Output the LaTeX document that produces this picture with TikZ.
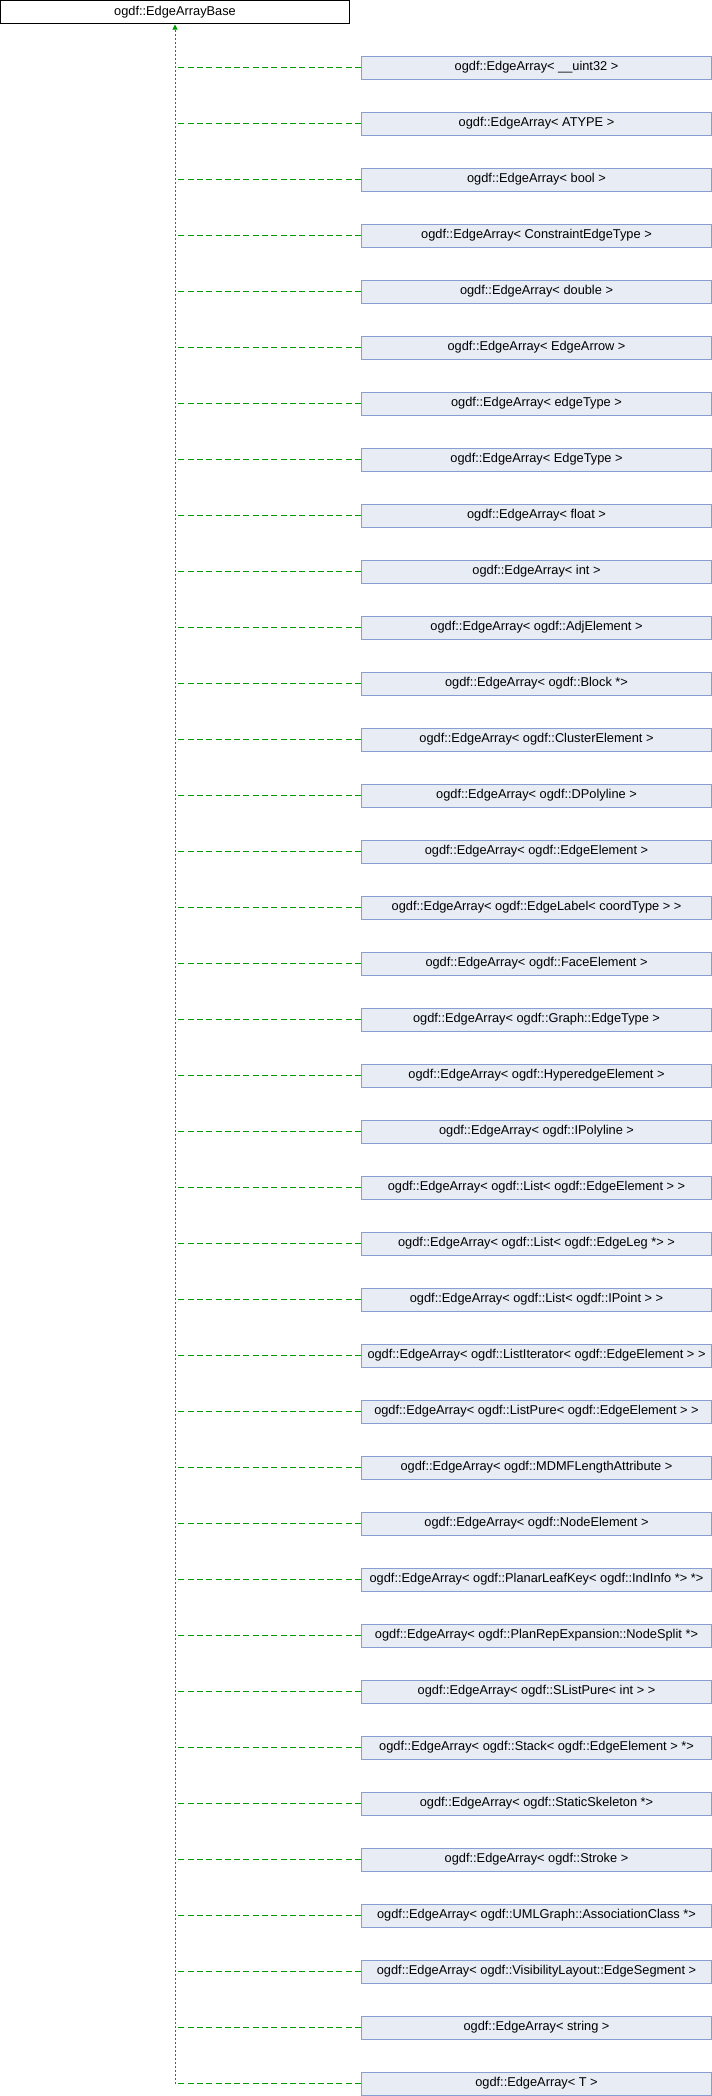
\documentclass[tikz,border=0pt]{standalone}
\usepackage{fontspec}
\setmainfont{Liberation Sans}
\usetikzlibrary{arrows.meta}
\definecolor{boxfill}{HTML}{E8ECF5}
\definecolor{boxline}{HTML}{8A9DD0}
\definecolor{edgegreen}{HTML}{009900}
\tikzset{
  basebox/.style={draw=black, fill=white, line width=1pt, minimum width=349pt, minimum height=22.5pt, inner sep=0pt, font=\fontsize{12.8}{15}\selectfont},
  childbox/.style={draw=boxline, fill=boxfill, line width=1pt, minimum width=350pt, minimum height=23pt, inner sep=0pt, font=\fontsize{12.8}{15}\selectfont},
  hedge/.style={draw=edgegreen, line width=1pt, dash pattern=on 6pt off 3.3pt},
  trunk/.style={draw=edgegreen, line width=1pt, dash pattern=on 2pt off 2pt, -{Triangle[width=5pt,length=5pt]}, shorten >=1pt}
}
\begin{document}
\begin{tikzpicture}[x=1pt,y=-1pt]
\useasboundingbox (0,0) rectangle (712,2096);
\node[basebox] (base) at (175,11.75) {ogdf::EdgeArrayBase};
\foreach \i/\lab in {
 1/{ogdf::EdgeArray< \_\_uint32 >},
 2/{ogdf::EdgeArray< ATYPE >},
 3/{ogdf::EdgeArray< bool >},
 4/{ogdf::EdgeArray< ConstraintEdgeType >},
 5/{ogdf::EdgeArray< double >},
 6/{ogdf::EdgeArray< EdgeArrow >},
 7/{ogdf::EdgeArray< edgeType >},
 8/{ogdf::EdgeArray< EdgeType >},
 9/{ogdf::EdgeArray< float >},
 10/{ogdf::EdgeArray< int >},
 11/{ogdf::EdgeArray< ogdf::AdjElement >},
 12/{ogdf::EdgeArray< ogdf::Block *>},
 13/{ogdf::EdgeArray< ogdf::ClusterElement >},
 14/{ogdf::EdgeArray< ogdf::DPolyline >},
 15/{ogdf::EdgeArray< ogdf::EdgeElement >},
 16/{ogdf::EdgeArray< ogdf::EdgeLabel< coordType > >},
 17/{ogdf::EdgeArray< ogdf::FaceElement >},
 18/{ogdf::EdgeArray< ogdf::Graph::EdgeType >},
 19/{ogdf::EdgeArray< ogdf::HyperedgeElement >},
 20/{ogdf::EdgeArray< ogdf::IPolyline >},
 21/{ogdf::EdgeArray< ogdf::List< ogdf::EdgeElement > >},
 22/{ogdf::EdgeArray< ogdf::List< ogdf::EdgeLeg *> >},
 23/{ogdf::EdgeArray< ogdf::List< ogdf::IPoint > >},
 24/{ogdf::EdgeArray< ogdf::ListIterator< ogdf::EdgeElement > >},
 25/{ogdf::EdgeArray< ogdf::ListPure< ogdf::EdgeElement > >},
 26/{ogdf::EdgeArray< ogdf::MDMFLengthAttribute >},
 27/{ogdf::EdgeArray< ogdf::NodeElement >},
 28/{ogdf::EdgeArray< ogdf::PlanarLeafKey< ogdf::IndInfo *> *>},
 29/{ogdf::EdgeArray< ogdf::PlanRepExpansion::NodeSplit *>},
 30/{ogdf::EdgeArray< ogdf::SListPure< int > >},
 31/{ogdf::EdgeArray< ogdf::Stack< ogdf::EdgeElement > *>},
 32/{ogdf::EdgeArray< ogdf::StaticSkeleton *>},
 33/{ogdf::EdgeArray< ogdf::Stroke >},
 34/{ogdf::EdgeArray< ogdf::UMLGraph::AssociationClass *>},
 35/{ogdf::EdgeArray< ogdf::VisibilityLayout::EdgeSegment >},
 36/{ogdf::EdgeArray< string >},
 37/{ogdf::EdgeArray< T >}} {
  \node[childbox] (c\i) at (536.5,{67.5+56*(\i-1)}) {\lab};
  \coordinate (j\i) at (base.south |- c\i.west);
  \draw[hedge] (c\i.west) -- ([xshift=1.5pt]j\i);
}
\draw[trunk] (j37) -- (base.south);
\end{tikzpicture}
\end{document}
